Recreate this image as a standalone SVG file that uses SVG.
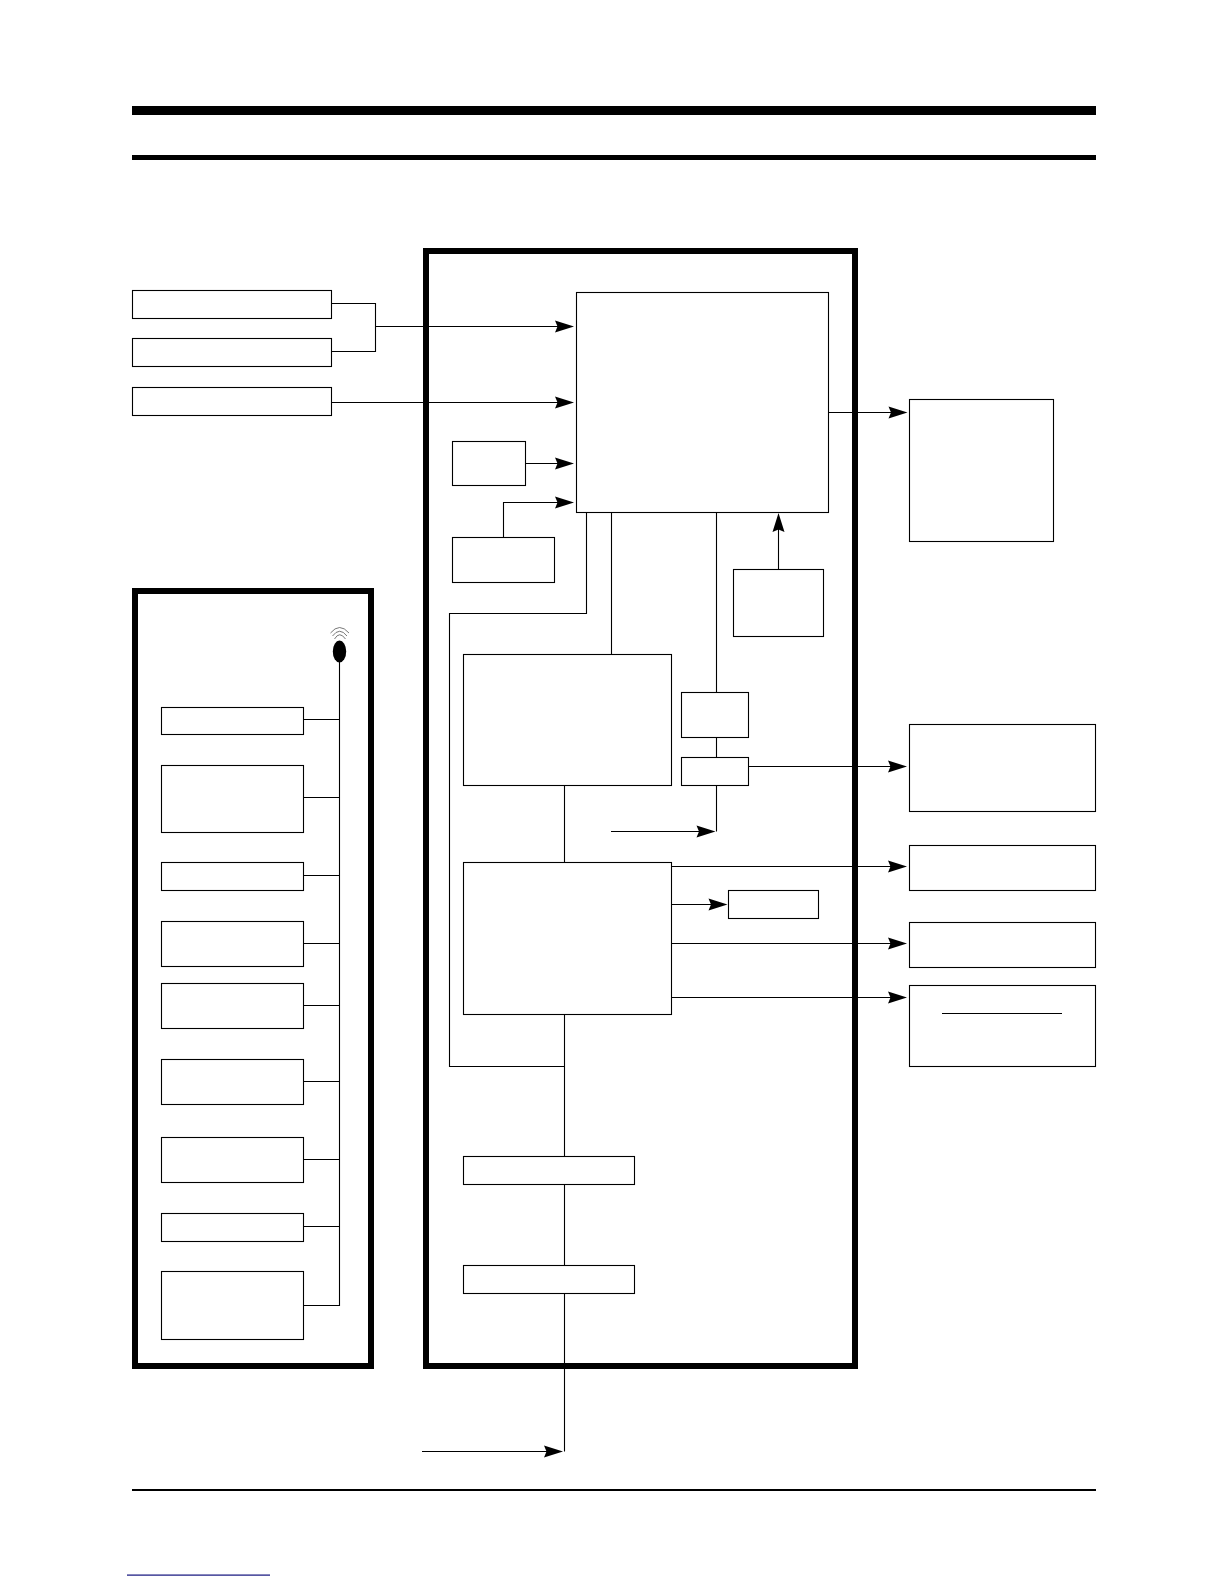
<svg xmlns="http://www.w3.org/2000/svg" width="1224" height="1584" viewBox="0 0 1224 1584">
<style>
.n{fill:#fff;stroke:#000;stroke-width:1.1}
.f{fill:none;stroke:#000;stroke-width:6}
.c{fill:none;stroke:#000;stroke-width:1.1}
.a{marker-end:url(#ah)}
.w{fill:none;stroke:#555;stroke-width:.8}
</style>
<defs>
<marker id="ah" markerUnits="userSpaceOnUse" markerWidth="20" markerHeight="13" refX="10" refY="6" orient="auto" overflow="visible">
<path d="M0 0L19 6L0 12L2.5 6z" fill="#000"/>
</marker>
</defs>
<rect width="1224" height="1584" fill="#fff"/>
<g id="rules">
<rect x="132" y="106" width="964" height="9"/>
<rect x="132" y="155" width="964" height="5"/>
<rect x="132" y="1489" width="964" height="2"/>
<rect x="127" y="1574.500" width="143" height="1.200" fill="#10107c"/>
</g>
<g id="frames">
<rect id="frame-main" class="f" x="426" y="251" width="429" height="1115"/>
<rect id="frame-remote" class="f" x="135" y="591" width="236" height="775"/>
</g>
<g id="connectors">
<path class="c" d="M331.5 303.5H375.5V351.5H331.5"/>
<path class="c a" d="M375.5 326.5H565"/>
<path class="c a" d="M331.5 402.5H565"/>
<path class="c a" d="M525.5 463.5H565"/>
<path class="c a" d="M503.5 537.5V502.5H565"/>
<path class="c" d="M586.5 512.5V613.5H449.5V1066.5H564.5"/>
<path class="c" d="M611.5 512.5V654.5"/>
<path class="c" d="M716.5 512.5V692.5M716.5 737.5V757.5"/>
<path class="c" d="M716.5 785.5V831.5"/>
<path class="c a" d="M611 831.5H706.5"/>
<path class="c a" d="M778.5 569.5V522"/>
<path class="c a" d="M828.5 412.5H898.5"/>
<path class="c a" d="M748.5 766.5H898"/>
<path class="c a" d="M671.5 866.5H898"/>
<path class="c a" d="M671.5 904.5H718.5"/>
<path class="c a" d="M671.5 943.5H898"/>
<path class="c a" d="M671.5 997.5H898"/>
<path class="c" d="M564.5 785.5V862.5M564.5 1014.5V1451.5"/>
<path class="c a" d="M422 1451.5H554"/>
<path class="c" d="M339.5 662V1305.5H303.5M303.5 719.5H339.5M303.5 797.5H339.5M303.5 875.5H339.5M303.5 943.5H339.5M303.5 1005.5H339.5M303.5 1081.5H339.5M303.5 1159.5H339.5M303.5 1226.5H339.5"/>
</g>
<g id="in-1"><rect class="n" x="132.5" y="290.5" width="199" height="28"/></g>
<g id="in-2"><rect class="n" x="132.5" y="338.5" width="199" height="28"/></g>
<g id="in-3"><rect class="n" x="132.5" y="387.5" width="199" height="28"/></g>
<g id="main"><rect class="n" x="576.5" y="292.5" width="252" height="220"/></g>
<g id="small-a"><rect class="n" x="452.5" y="441.5" width="73" height="44"/></g>
<g id="small-b"><rect class="n" x="452.5" y="537.5" width="102" height="45"/></g>
<g id="small-c"><rect class="n" x="733.5" y="569.5" width="90" height="67"/></g>
<g id="out-1"><rect class="n" x="909.5" y="399.5" width="144" height="142"/></g>
<g id="box-a"><rect class="n" x="463.5" y="654.5" width="208" height="131"/></g>
<g id="box-b"><rect class="n" x="681.5" y="692.5" width="67" height="45"/></g>
<g id="box-c"><rect class="n" x="681.5" y="757.5" width="67" height="28"/></g>
<g id="box-d"><rect class="n" x="463.5" y="862.5" width="208" height="152"/></g>
<g id="box-e"><rect class="n" x="728.5" y="890.5" width="90" height="28"/></g>
<g id="box-f"><rect class="n" x="463.5" y="1156.5" width="171" height="28"/></g>
<g id="box-g"><rect class="n" x="463.5" y="1265.5" width="171" height="28"/></g>
<g id="out-2"><rect class="n" x="909.5" y="724.5" width="186" height="87"/></g>
<g id="out-3"><rect class="n" x="909.5" y="845.5" width="186" height="45"/></g>
<g id="out-4"><rect class="n" x="909.5" y="922.5" width="186" height="45"/></g>
<g id="out-5"><rect class="n" x="909.5" y="985.5" width="186" height="81"/><path class="c" d="M942 1013.5H1062"/></g>
<g id="remote-icon">
<ellipse cx="339.5" cy="651.500" rx="6.700" ry="11"/>
<path class="w" d="M330.500 633Q339.500 622 349 633M332.500 636Q339.500 626.500 347 636M334.500 639Q339.500 630.500 345.500 639"/>
</g>
<g id="r-1"><rect class="n" x="161.5" y="707.5" width="142" height="27"/></g>
<g id="r-2"><rect class="n" x="161.5" y="765.5" width="142" height="67"/></g>
<g id="r-3"><rect class="n" x="161.5" y="862.5" width="142" height="28"/></g>
<g id="r-4"><rect class="n" x="161.5" y="921.5" width="142" height="45"/></g>
<g id="r-5"><rect class="n" x="161.5" y="983.5" width="142" height="45"/></g>
<g id="r-6"><rect class="n" x="161.5" y="1059.5" width="142" height="45"/></g>
<g id="r-7"><rect class="n" x="161.5" y="1137.5" width="142" height="45"/></g>
<g id="r-8"><rect class="n" x="161.5" y="1213.5" width="142" height="28"/></g>
<g id="r-9"><rect class="n" x="161.5" y="1271.5" width="142" height="68"/></g>
</svg>
